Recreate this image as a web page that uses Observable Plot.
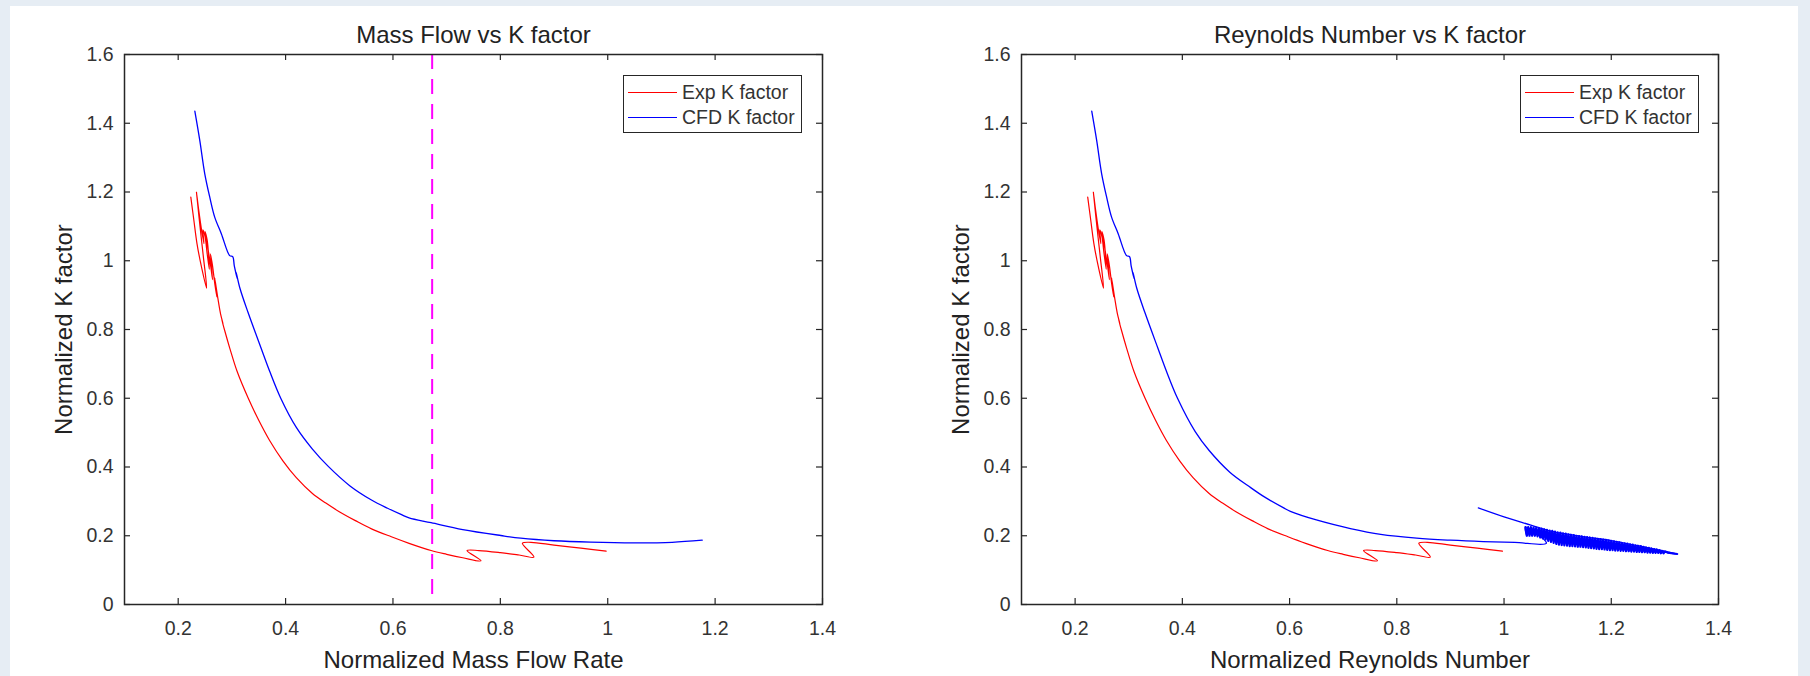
<!DOCTYPE html>
<html>
<head>
<meta charset="utf-8">
<script src="https://cdn.jsdelivr.net/npm/d3@7"></script>
<script src="https://cdn.jsdelivr.net/npm/@observablehq/plot@0.6"></script>
<style>
html,body{margin:0;padding:0;}
body{width:1810px;height:676px;background:#e6edf4;overflow:hidden;font-family:"Liberation Sans",Arial,Helvetica,sans-serif;position:relative;}
#panel{position:absolute;left:10px;top:6px;width:1788px;height:670px;background:#fff;}
.pane{position:absolute;top:0;}
.legend{position:absolute;box-sizing:border-box;width:179px;height:58px;border:1px solid #262626;background:#fff;}
.legend .sw{position:absolute;left:4px;width:49px;height:0;}
.legend .lb{position:absolute;left:58px;font-size:19.5px;color:#333;line-height:1;transform:translateY(-50%);white-space:nowrap;}
</style>
</head>
<body>
<div id="panel"></div>
<script>
// ---- data ----
const titles = ["Mass Flow vs K factor", "Reynolds Number vs K factor"];
const xLabels = ["Normalized Mass Flow Rate", "Normalized Reynolds Number"];
const yLabel = "Normalized K factor";
const legendLabels = ["Exp K factor", "CFD K factor"];
const xTicks = [0.2, 0.4, 0.6, 0.8, 1, 1.2, 1.4];
const yTicks = [0, 0.2, 0.4, 0.6, 0.8, 1, 1.2, 1.4, 1.6];
const cutoffX = 0.673;

// Experimental K factor (same in both panels)
const expX = [0.2235,0.2290,0.2350,0.2430,0.2530,0.2470,0.2420,0.2340,0.2380,0.2430,0.2480,0.2460,0.2500,0.2540,0.2580,0.2540,0.2500,0.2560,0.2600,0.2640,0.2600,0.2640,0.2680,0.2720,0.2680,0.2740,0.2790,0.2835,0.2810,0.2866,0.2960,0.3100,0.3305,0.3500,0.3700,0.3950,0.4200,0.4500,0.4750,0.5000,0.5300,0.5600,0.5970,0.6300,0.6710,0.7000,0.7300,0.7640,0.7380,0.7600,0.8000,0.8350,0.8625,0.8410,0.8570,0.9000,0.9500,0.9970];
const expY = [1.185,1.120,1.050,0.985,0.920,1.010,1.080,1.200,1.150,1.095,1.050,1.090,1.070,1.020,0.975,1.060,1.085,1.030,0.990,0.945,1.020,0.985,0.935,0.895,0.950,0.890,0.845,0.817,0.830,0.797,0.746,0.677,0.600,0.536,0.478,0.418,0.369,0.323,0.295,0.270,0.244,0.220,0.197,0.178,0.157,0.146,0.136,0.127,0.157,0.157,0.151,0.144,0.138,0.178,0.181,0.173,0.164,0.155];

// CFD K factor vs mass flow
const cfdMassX = [0.2310,0.2402,0.2495,0.2588,0.2680,0.2805,0.2959,0.3015,0.3045,0.3100,0.3080,0.3150,0.3300,0.3548,0.3700,0.3910,0.4200,0.4500,0.4800,0.5200,0.5600,0.5900,0.6150,0.6300,0.6710,0.7300,0.8010,0.8380,0.9000,0.9680,1.0500,1.1200,1.1760];
const cfdMassY = [1.435,1.350,1.253,1.185,1.127,1.078,1.015,1.012,0.985,0.948,0.966,0.920,0.850,0.744,0.680,0.600,0.515,0.452,0.401,0.345,0.304,0.280,0.262,0.252,0.238,0.218,0.2007,0.193,0.1855,0.1815,0.1795,0.181,0.187];

// CFD K factor vs Reynolds number: main branch, oscillating tail, return branch
const cfdReMainX = [0.2310,0.2402,0.2495,0.2588,0.2680,0.2805,0.2959,0.3015,0.3045,0.3100,0.3080,0.3150,0.3300,0.3548,0.3700,0.3910,0.4240,0.4500,0.4885,0.5275,0.5530,0.5890,0.6015,0.6500,0.7134,0.7700,0.8370,0.9000,0.9610,1.0200,1.0790];
const cfdReMainY = [1.435,1.350,1.253,1.185,1.127,1.078,1.015,1.012,0.985,0.948,0.966,0.920,0.850,0.744,0.680,0.600,0.503,0.448,0.385,0.340,0.313,0.281,0.271,0.246,0.221,0.204,0.193,0.187,0.183,0.1805,0.178];
const cfdReTailX = [1.0400,1.0425,1.0450,1.0475,1.0500,1.0525,1.0550,1.0575,1.0600,1.0625,1.0650,1.0675,1.0700,1.0725,1.0750,1.0775,1.0800,1.0825,1.0850,1.0875,1.0900,1.0925,1.0950,1.0975,1.1000,1.1025,1.1050,1.1075,1.1100,1.1125,1.1150,1.1175,1.1200,1.1225,1.1250,1.1275,1.1300,1.1325,1.1350,1.1375,1.1400,1.1425,1.1450,1.1475,1.1500,1.1525,1.1550,1.1575,1.1600,1.1625,1.1650,1.1675,1.1700,1.1725,1.1750,1.1775,1.1800,1.1825,1.1850,1.1875,1.1900,1.1925,1.1950,1.1975,1.2000,1.2025,1.2050,1.2075,1.2100,1.2125,1.2150,1.2175,1.2200,1.2225,1.2250,1.2275,1.2300,1.2325,1.2350,1.2375,1.2400,1.2425,1.2450,1.2475,1.2500,1.2525,1.2550,1.2575,1.2600,1.2625,1.2650,1.2675,1.2700,1.2725,1.2750,1.2775,1.2800,1.2825,1.2850,1.2875,1.2900,1.2925,1.2950,1.2975,1.3000,1.3050,1.3230];
const cfdReTailY = [0.225,0.200,0.225,0.200,0.225,0.200,0.224,0.200,0.223,0.198,0.222,0.195,0.221,0.192,0.219,0.189,0.217,0.185,0.215,0.182,0.214,0.179,0.212,0.176,0.210,0.174,0.209,0.173,0.207,0.172,0.206,0.171,0.204,0.170,0.203,0.170,0.202,0.169,0.200,0.168,0.199,0.168,0.198,0.167,0.197,0.166,0.196,0.165,0.195,0.164,0.194,0.163,0.192,0.162,0.191,0.161,0.190,0.161,0.189,0.160,0.188,0.159,0.186,0.158,0.185,0.158,0.184,0.157,0.182,0.157,0.181,0.156,0.179,0.156,0.178,0.155,0.177,0.155,0.175,0.154,0.174,0.154,0.172,0.153,0.171,0.153,0.170,0.152,0.168,0.152,0.166,0.151,0.165,0.151,0.163,0.150,0.161,0.150,0.160,0.150,0.158,0.149,0.156,0.149,0.154,0.151,0.147];
const cfdReBackX = [1.300,1.250,1.200,1.150,1.100,1.085,1.050,1.000,0.952];
const cfdReBackY = [0.155,0.171,0.186,0.197,0.209,0.214,0.231,0.255,0.281];

const expColor = "#ff0000";
const cfdColor = "#0000ff";
const ink = "#262626";
const font = "'Liberation Sans', Arial, Helvetica, sans-serif";

const W = 905, H = 676, MT = 54, MB = 72;

function chart(o) {
  const exp = expX.map((x, i) => ({x, y: expY[i]}));
  const cfd = o.cfdX.map((x, i) => ({x, y: o.cfdY[i]}));
  const fw = W - o.ml - o.mr, fh = H - MT - MB;
  const marks = [
    Plot.line(exp, {x: "x", y: "y", stroke: expColor, strokeWidth: 1.2, curve: "catmull-rom"}),
    Plot.line(cfd, {x: "x", y: "y", stroke: cfdColor, strokeWidth: 1.3, curve: "catmull-rom"})
  ];
  if (o.tailX) {
    const tail = o.tailX.map((x, i) => ({x, y: o.tailY[i]}));
    marks.push(Plot.line(tail, {x: "x", y: "y", stroke: cfdColor, strokeWidth: 2.2, curve: "linear"}));
  }
  if (o.vline != null) marks.push(Plot.ruleX([o.vline], {stroke: "#ff00ff", strokeWidth: 2, strokeDasharray: "15,10"}));
  marks.push(
    Plot.ruleX(xTicks, {stroke: ink, strokeWidth: 1.2, insetTop: fh - 6}),
    Plot.ruleX(xTicks, {stroke: ink, strokeWidth: 1.2, insetBottom: fh - 6}),
    Plot.ruleY(yTicks, {stroke: ink, strokeWidth: 1.2, insetRight: fw - 6}),
    Plot.ruleY(yTicks, {stroke: ink, strokeWidth: 1.2, insetLeft: fw - 6}),
    Plot.frame({stroke: ink, strokeWidth: 1.5}),
    Plot.axisX({ticks: xTicks, tickSize: 0, tickPadding: 17, fontSize: 19.5, tickFormat: d => String(d), label: null, fill: "#333"}),
    Plot.axisY({ticks: yTicks, tickSize: 0, tickPadding: 11, fontSize: 19.5, tickFormat: d => String(d), label: null, fill: "#333"}),
    Plot.text([o.title], {text: d => d, frameAnchor: "top", textAnchor: "middle", dy: -19.5, lineAnchor: "middle", fontSize: 24, fill: "#222"}),
    Plot.text([o.xLabel], {text: d => d, frameAnchor: "bottom", textAnchor: "middle", dy: 56, lineAnchor: "middle", fontSize: 24, fill: "#222"}),
    Plot.text([yLabel], {text: d => d, frameAnchor: "left", textAnchor: "middle", dx: -60, rotate: -90, lineAnchor: "middle", fontSize: 24, fill: "#222"})
  );
  return Plot.plot({
    width: W, height: H,
    marginLeft: o.ml, marginRight: o.mr, marginTop: MT, marginBottom: MB,
    x: {domain: [0.1, 1.4]},
    y: {domain: [0, 1.6]},
    style: {fontFamily: font, background: "transparent", overflow: "visible", color: ink},
    marks
  });
}

function legend(left) {
  const box = document.createElement("div");
  box.className = "legend";
  box.style.left = left + "px";
  box.style.top = "75px";
  const rows = [[legendLabels[0], expColor, 16.5], [legendLabels[1], cfdColor, 42]];
  for (const [label, color, y] of rows) {
    const sw = document.createElement("div");
    sw.className = "sw";
    sw.style.top = (y - 1) + "px";
    sw.style.borderTop = "1.4px solid " + color;
    const lb = document.createElement("div");
    lb.className = "lb";
    lb.style.top = y + "px";
    lb.textContent = label;
    box.append(sw, lb);
  }
  return box;
}

const panes = [
  {left: 0, ml: 124, mr: 83, title: titles[0], xLabel: xLabels[0], cfdX: cfdMassX, cfdY: cfdMassY, vline: cutoffX, legendLeft: 623},
  {left: 905, ml: 116, mr: 92, title: titles[1], xLabel: xLabels[1],
   cfdX: cfdReMainX.concat(cfdReTailX, cfdReBackX), cfdY: cfdReMainY.concat(cfdReTailY, cfdReBackY),
   tailX: cfdReTailX, tailY: cfdReTailY, vline: null, legendLeft: 1520}
];
for (const p of panes) {
  const d = document.createElement("div");
  d.className = "pane";
  d.style.left = p.left + "px";
  d.append(chart(p));
  document.body.append(d);
  document.body.append(legend(p.legendLeft));
}
</script>
</body>
</html>
